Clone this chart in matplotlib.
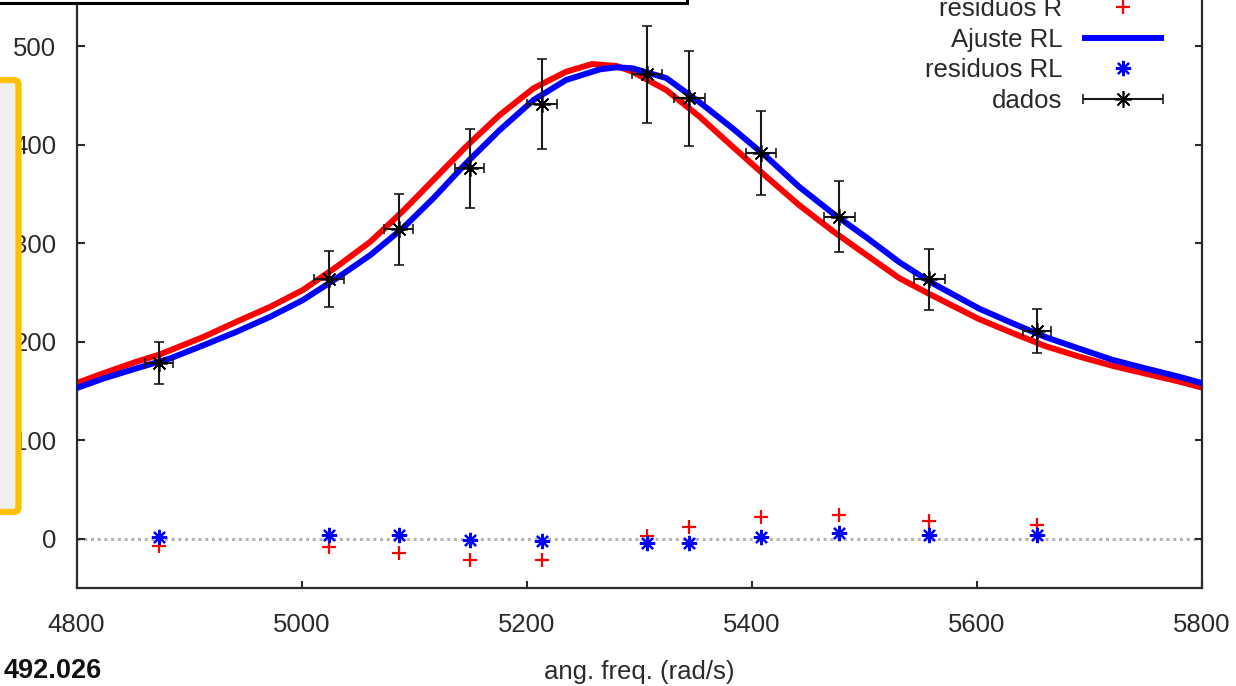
import numpy as np
import matplotlib
matplotlib.use("Agg")
import matplotlib.pyplot as plt
from matplotlib.patches import Rectangle, FancyBboxPatch
from matplotlib.transforms import IdentityTransform
from matplotlib.legend_handler import HandlerErrorbar

plt.rcParams["font.family"] = ["Liberation Sans", "DejaVu Sans"]

# measured points (angular frequency, amplitude) with error bars
freq = [4873.5, 5024.4, 5086.3, 5149.3, 5213.5, 5306.7, 5344.6, 5408.3, 5477.8, 5557.7, 5653.3]
amp = [178.5, 263.1, 314.2, 376.1, 440.8, 471.3, 446.9, 391.7, 326.7, 263.1, 211.0]
freq_err = [12.4, 13.3, 13.0, 13.0, 13.0, 13.5, 13.5, 13.5, 13.5, 13.8, 12.6]
amp_err = [21.3, 28.4, 36.0, 40.0, 45.7, 49.0, 47.9, 42.8, 36.0, 30.5, 22.2]

# residuals of both fits
res_r = [-7.1, -8.8, -14.8, -21.2, -21.2, 3.0, 11.5, 21.6, 23.9, 17.5, 13.8]
res_rl = [2.0, 3.7, 3.7, -1.0, -2.7, -4.7, -4.7, 1.3, 5.4, 3.7, 3.7]

# fit curves
fit_r_x = [4800, 4824, 4853, 4874, 4913, 4942, 4972, 5001, 5031, 5061, 5090, 5117,
           5146, 5176, 5206, 5235, 5258, 5280, 5294, 5324, 5354, 5383, 5413, 5442,
           5472, 5502, 5531, 5558, 5602, 5632, 5661, 5691, 5720, 5750, 5780, 5800]
fit_r_y = [157.9, 168.0, 179.5, 187.0, 204.9, 220.1, 235.3, 252.3, 275.9, 301.3, 332.5, 364.0,
           397.8, 430.0, 457.1, 473.9, 481.7, 479.7, 473.9, 455.3, 427.9, 397.8, 367.3, 338.6,
           312.2, 287.8, 264.5, 248.2, 222.8, 208.6, 195.4, 184.8, 175.6, 167.5, 159.4, 153.3]
fit_rl_x = [4800, 4824, 4853, 4883, 4913, 4942, 4972, 5001, 5031, 5061, 5090, 5117,
            5146, 5176, 5206, 5235, 5265, 5280, 5294, 5324, 5354, 5383, 5413, 5442,
            5472, 5502, 5531, 5558, 5602, 5632, 5661, 5691, 5720, 5750, 5780, 5800]
fit_rl_y = [152.8, 162.6, 172.8, 182.9, 196.4, 209.9, 225.2, 242.1, 264.2, 287.8, 315.2, 345.4,
            380.9, 414.7, 445.2, 465.5, 476.3, 478.4, 477.4, 467.5, 442.6, 416.4, 387.6, 357.2,
            330.2, 305.6, 280.7, 260.9, 233.5, 218.5, 204.6, 192.9, 181.7, 172.8, 164.3, 157.9]

xticks = [4800, 5000, 5200, 5400, 5600, 5800]
yticks = [0, 100, 200, 300, 400, 500]

W, H = 1236, 686
fig = plt.figure(figsize=(W / 100, H / 100), dpi=100)
ax = fig.add_axes([76.5 / W, 98 / H, 1125.5 / W, 591.25 / H])

text_col = "#2a2a2a"
axis_col = "#2b2b2b"

ax.axhline(0, color="#b4b4b4", lw=2.2, ls=(0, (1, 1.2)), zorder=1)

l_r, = ax.plot(fit_r_x, fit_r_y, color="#ff0000", lw=4.3, zorder=2, solid_capstyle="butt")
m_r, = ax.plot(freq, res_r, ls="none", marker="+", ms=10, mew=1.6, color="#ff0000", zorder=3)
l_rl, = ax.plot(fit_rl_x, fit_rl_y, color="#0000ff", lw=4.3, zorder=3, solid_capstyle="butt")
m_rl, = ax.plot(freq, res_rl, ls="none", marker=(8, 2, 0), ms=11, mew=1.6, color="#0000ff", zorder=4)

ax.errorbar(freq, amp, xerr=freq_err, yerr=amp_err, ls="none", marker=(8, 2, 0), ms=12,
            mew=1.2, color="black", ecolor="#1a1a1a", elinewidth=1.5, capsize=3.5,
            capthick=1.5, zorder=5)
ax.plot(freq, amp, ls="none", marker="o", ms=4, color="black", zorder=6)

# legend sample for the data: horizontal bar with caps only
proxy = ax.errorbar([np.nan], [np.nan], xerr=[1], ls="none", marker=(8, 2, 0), ms=12,
                    mew=1.2, color="black", ecolor="#1a1a1a", elinewidth=1.5,
                    capsize=3.5, capthick=1.5)

ax.set_xlim(4800, 5800)
ax.set_ylim(-50, 550)
ax.set_xticks(xticks)
ax.set_yticks(yticks)
ax.tick_params(direction="in", length=5.4, width=1.5, color=axis_col, labelsize=18.5,
               labelcolor=text_col, top=False, right=True)
ax.tick_params(axis="y", pad=14.5)
ax.tick_params(axis="x", pad=18)
for s in ax.spines.values():
    s.set_color(axis_col)
    s.set_linewidth(1.6)

ax.set_xlabel("ang. freq. (rad/s)", fontsize=18.5, color=text_col)
ax.xaxis.set_label_coords(0.5, (588 - 672) / 591.25)
ax.xaxis.label.set_va("center")

ax.legend([l_r, m_r, l_rl, m_rl, proxy],
          ["Ajuste R", "residuos R", "Ajuste RL", "residuos RL", "dados"],
          loc="upper right", bbox_to_anchor=(1164 / W, 1 + 33 / H),
          bbox_transform=fig.transFigure, frameon=False, markerfirst=False,
          borderpad=0, borderaxespad=0, handlelength=3.2, handletextpad=0.75,
          labelspacing=0.25, fontsize=18.5, numpoints=1, labelcolor=text_col,
          handler_map={proxy: HandlerErrorbar(xerr_size=1.55)})

# surrounding pieces of the screenshot
fig.add_artist(Rectangle((-10, H - 3), 696.5, 100, transform=IdentityTransform(),
                         facecolor="white", edgecolor="black", lw=2.2, zorder=10))
fig.add_artist(FancyBboxPatch((-20, 174), 38.5, 432,
                              boxstyle="round,pad=0,rounding_size=5",
                              transform=IdentityTransform(), facecolor="#f0f0f0",
                              edgecolor="#ffc000", lw=4.5, zorder=10))
fig.text(4 / W, (H - 671) / H, "492.026", fontsize=19.5, fontweight="bold",
         color="#111111", ha="left", va="center")

fig.savefig("out.png", dpi=100)
